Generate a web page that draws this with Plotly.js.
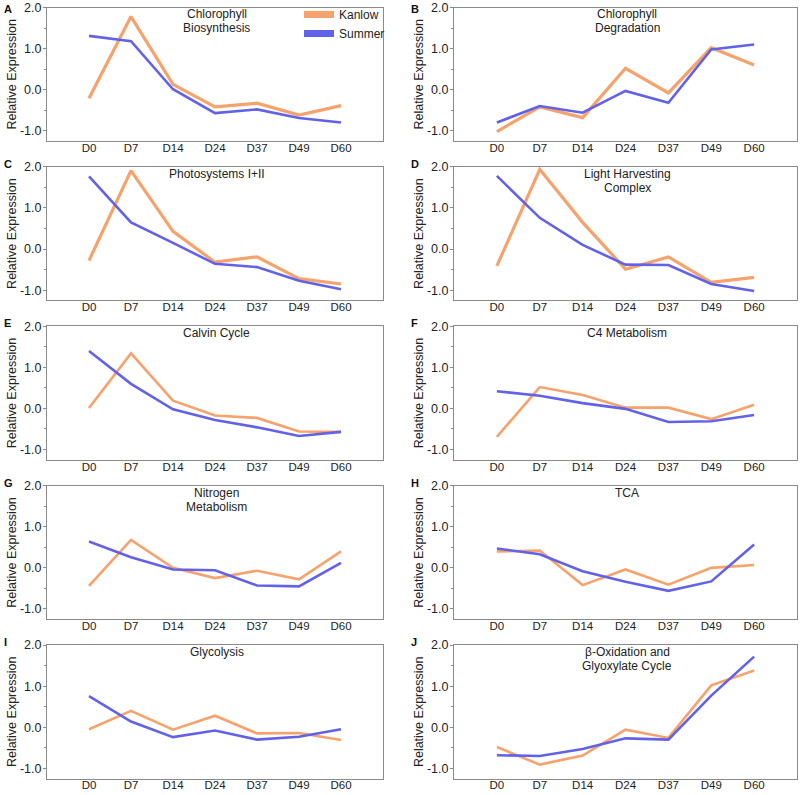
<!DOCTYPE html>
<html>
<head>
<meta charset="utf-8">
<script src="https://cdn.plot.ly/plotly-3.0.1.min.js"></script>
<style>html,body{margin:0;padding:0;background:#fff}#chart{width:800px;height:795px}</style>
</head>
<body>
<div id="chart"></div>
<script>
// ---- data ----
const days = ['D0','D7','D14','D24','D37','D49','D60'];
const seriesNames = ['Kanlow','Summer'];
const panelLetters = ['A','B','C','D','E','F','G','H','I','J'];
const panelTitles = [
  'Chlorophyll\nBiosynthesis',
  'Chlorophyll\nDegradation',
  'Photosystems I+II',
  'Light Harvesting\nComplex',
  'Calvin Cycle',
  'C4 Metabolism',
  'Nitrogen\nMetabolism',
  'TCA',
  'Glycolysis',
  '\u03b2-Oxidation and\nGlyoxylate Cycle'
];
const yTickVals = [-1, 0, 1, 2];
const yTickText = ['-1.0', '0.0', '1.0', '2.0'];

const kanlowA = [-0.21, 1.78, 0.13, -0.42, -0.33, -0.62, -0.39];
const summerA = [1.31, 1.18, 0.01, -0.57, -0.48, -0.69, -0.80];
const kanlowB = [-1.02, -0.42, -0.68, 0.52, -0.08, 1.02, 0.60];
const summerB = [-0.80, -0.40, -0.56, -0.03, -0.32, 0.98, 1.10];
const kanlowC = [-0.28, 1.91, 0.43, -0.32, -0.19, -0.72, -0.85];
const summerC = [1.77, 0.65, 0.15, -0.36, -0.44, -0.77, -0.98];
const kanlowD = [-0.41, 1.94, 0.65, -0.49, -0.19, -0.81, -0.69];
const summerD = [1.78, 0.76, 0.10, -0.38, -0.39, -0.85, -1.02];
const kanlowE = [0.01, 1.34, 0.19, -0.17, -0.23, -0.56, -0.57];
const summerE = [1.40, 0.60, -0.02, -0.28, -0.46, -0.67, -0.57];
const kanlowF = [-0.69, 0.52, 0.33, 0.02, 0.02, -0.26, 0.09];
const summerF = [0.42, 0.31, 0.13, -0.01, -0.33, -0.31, -0.16];
const kanlowG = [-0.44, 0.68, 0.00, -0.25, -0.07, -0.28, 0.40];
const summerG = [0.64, 0.26, -0.04, -0.06, -0.43, -0.45, 0.12];
const kanlowH = [0.40, 0.42, -0.42, -0.04, -0.41, 0.00, 0.07];
const summerH = [0.47, 0.33, -0.08, -0.34, -0.56, -0.33, 0.57];
const kanlowI = [-0.05, 0.40, -0.06, 0.28, -0.15, -0.14, -0.31];
const summerI = [0.76, 0.14, -0.24, -0.08, -0.30, -0.23, -0.05];
const kanlowJ = [-0.48, -0.91, -0.69, -0.06, -0.26, 1.02, 1.38];
const summerJ = [-0.68, -0.70, -0.53, -0.27, -0.30, 0.77, 1.72];

const kanlowAll = [kanlowA, kanlowB, kanlowC, kanlowD, kanlowE, kanlowF, kanlowG, kanlowH, kanlowI, kanlowJ];
const summerAll = [summerA, summerB, summerC, summerD, summerE, summerF, summerG, summerH, summerI, summerJ];

// ---- styling / layout ----
const W = 800, H = 795;
const ORANGE = '#F6A26C';
const BLUE = '#6262E8';
const FONT = 'Liberation Sans, Arial, sans-serif';
const colX = [[47, 383], [454, 797]];
const rowTop0 = 7.5, rowStep = 159.4, plotH = 133.5;

const traces = [];
const layout = {
  width: W, height: H,
  margin: {l: 0, r: 0, t: 0, b: 0},
  paper_bgcolor: '#fff', plot_bgcolor: '#fff',
  font: {family: FONT, size: 12, color: '#222'},
  showlegend: true,
  legend: {
    x: 299 / W, y: 1, xanchor: 'left', yanchor: 'top',
    bgcolor: 'rgba(0,0,0,0)', borderwidth: 0, tracegroupgap: 0,
    font: {family: FONT, size: 12, color: '#222'},
    itemclick: false
  },
  annotations: []
};

for (let i = 0; i < 10; i++) {
  const row = Math.floor(i / 2), col = i % 2;
  const xa = i === 0 ? 'x' : 'x' + (i + 1);
  const ya = i === 0 ? 'y' : 'y' + (i + 1);
  const xKey = i === 0 ? 'xaxis' : 'xaxis' + (i + 1);
  const yKey = i === 0 ? 'yaxis' : 'yaxis' + (i + 1);
  const top = rowTop0 + row * rowStep;
  const bot = top + plotH;
  const [x0, x1] = colX[col];
  const kw = i < 4 ? 3.2 : 2.6;

  traces.push({
    type: 'scatter', mode: 'lines', x: days, y: kanlowAll[i],
    name: seriesNames[0], showlegend: false,
    xaxis: xa, yaxis: ya, line: {color: ORANGE, width: kw}, hoverinfo: 'x+y+name'
  });
  traces.push({
    type: 'scatter', mode: 'lines', x: days, y: summerAll[i],
    name: seriesNames[1], showlegend: false,
    xaxis: xa, yaxis: ya, line: {color: BLUE, width: 2.6}, hoverinfo: 'x+y+name'
  });

  layout[xKey] = {
    domain: [x0 / W, x1 / W], anchor: ya, type: 'category',
    range: [-1, 7], showgrid: false, zeroline: false,
    showline: true, linecolor: '#8a8a8a', linewidth: 1, mirror: true,
    ticks: '', ticklen: 0, ticklabelstandoff: -4, ticklabeloverflow: 'allow',
    tickfont: {family: FONT, size: 11.5, color: '#222'}, fixedrange: true
  };
  layout[yKey] = {
    domain: [1 - bot / H, 1 - top / H], anchor: xa,
    range: [-1.25, 2.0], showgrid: false, zeroline: false,
    showline: true, linecolor: '#8a8a8a', linewidth: 1, mirror: true,
    tickmode: 'array', tickvals: yTickVals, ticktext: yTickText,
    ticks: 'outside', ticklen: 3, tickcolor: '#8a8a8a',
    ticklabelstandoff: -1, ticklabeloverflow: 'allow',
    minor: {dtick: 0.5, tick0: 0, ticks: 'outside', ticklen: 2, tickcolor: '#8a8a8a'},
    tickfont: {family: FONT, size: 12.5, color: '#222'},
    title: {text: 'Relative Expression', font: {family: FONT, size: 12.5, color: '#222'}, standoff: 0},
    fixedrange: true
  };

  // panel title lines
  const lines = panelTitles[i].split('\n');
  lines.forEach((t, j) => {
    layout.annotations.push({
      xref: 'paper', yref: 'paper', x: (x0 + x1) / 2 / W + 0.002,
      y: 1 - (top + 7 + j * 14) / H, xanchor: 'center', yanchor: 'middle',
      text: t, showarrow: false, font: {family: FONT, size: 12, color: '#222'}
    });
  });
  // panel letter
  const ly = row === 0 ? 9.5 : top - 3;
  layout.annotations.push({
    xref: 'paper', yref: 'paper', x: (col === 0 ? 2 : 409) / W,
    y: 1 - ly / H, xanchor: 'left', yanchor: 'middle',
    text: '<b>' + panelLetters[i] + '</b>', showarrow: false,
    font: {family: FONT, size: 11, color: '#111'}
  });
}

// legend-only entries
traces.push({type: 'scatter', mode: 'lines', x: [null], y: [null], name: seriesNames[0],
  line: {color: ORANGE, width: 7}, xaxis: 'x', yaxis: 'y', hoverinfo: 'skip'});
traces.push({type: 'scatter', mode: 'lines', x: [null], y: [null], name: seriesNames[1],
  line: {color: BLUE, width: 7}, xaxis: 'x', yaxis: 'y', hoverinfo: 'skip'});

Plotly.newPlot('chart', traces, layout, {staticPlot: true, displayModeBar: false});
</script>
</body>
</html>
